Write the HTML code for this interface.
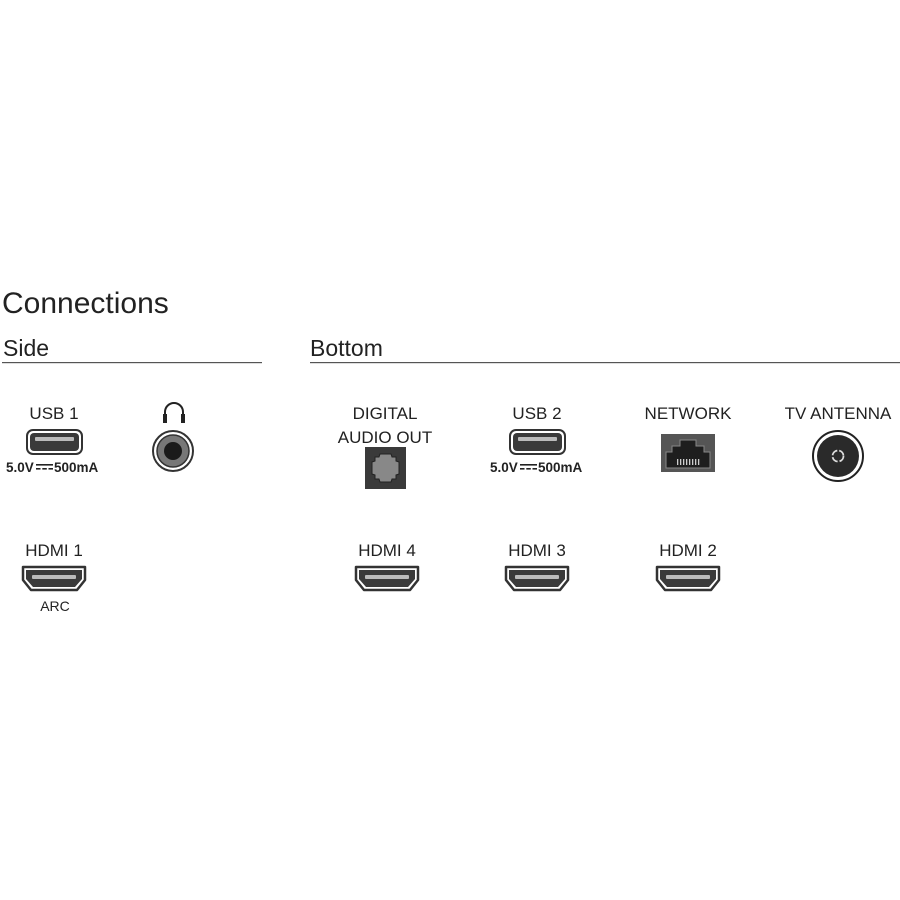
<!DOCTYPE html>
<html><head><meta charset="utf-8"><style>
html,body{margin:0;padding:0;background:#fff;width:900px;height:900px;overflow:hidden}
svg{display:block}
text{font-family:"Liberation Sans",sans-serif;fill:#222}
</style></head><body>
<svg width="900" height="900" viewBox="0 0 900 900">
<defs>
<g id="usb">
<rect x="0" y="0" width="55" height="24" rx="6" fill="#fff" stroke="#333" stroke-width="2"/>
<rect x="3" y="3" width="49" height="18" rx="4" fill="#3a3a3a"/>
<rect x="8" y="7" width="39" height="4" rx="1" fill="#bbb"/>
</g>
<g id="hdmi">
<path d="M2 2 H64 V15 L56 25 H10 L2 15 Z" fill="#fff" stroke="#333" stroke-width="2.5" stroke-linejoin="round"/>
<path d="M5 5 H61 V14 L54 22 H12 L5 14 Z" fill="#3a3a3a"/>
<rect x="11" y="10" width="44" height="4" rx="1" fill="#bbb"/>
</g>
<g id="pw">
<text x="0" y="0" font-size="13.5" font-weight="bold">5.0V</text>
<rect x="30" y="-8" width="17" height="1.6" fill="#222"/>
<rect x="30" y="-4" width="4.5" height="1.6" fill="#222"/><rect x="36.3" y="-4" width="4.5" height="1.6" fill="#222"/><rect x="42.5" y="-4" width="4.5" height="1.6" fill="#222"/>
<text x="48" y="0" font-size="13.5" font-weight="bold">500mA</text>
</g>
</defs>
<text x="2" y="313" font-size="30" fill="#333" style="font-weight:300">Connections</text>
<text x="3" y="356" font-size="23">Side</text>
<text x="310" y="356" font-size="23">Bottom</text>
<rect x="2" y="362" width="260" height="1.2" fill="#555"/>
<rect x="310" y="362" width="590" height="1.2" fill="#555"/>

<text x="54" y="419" font-size="17" text-anchor="middle">USB 1</text>
<use href="#usb" x="27" y="430"/>
<use href="#pw" x="6" y="472"/>

<path d="M165 422 V412 A9 9 0 0 1 183 412 V422" fill="none" stroke="#222" stroke-width="2"/>
<rect x="163" y="414" width="4" height="9" fill="#222"/><rect x="181" y="414" width="4" height="9" fill="#222"/>
<circle cx="173" cy="451" r="20" fill="#fff" stroke="#333" stroke-width="2"/>
<circle cx="173" cy="451" r="16" fill="#777" stroke="#333" stroke-width="1.5"/>
<circle cx="173" cy="451" r="9" fill="#1a1a1a"/>

<text x="54" y="556" font-size="17" text-anchor="middle">HDMI 1</text>
<use href="#hdmi" x="21" y="565"/>
<text x="55" y="611" font-size="14" text-anchor="middle">ARC</text>

<text x="385" y="419" font-size="17" text-anchor="middle">DIGITAL</text>
<text x="385" y="443" font-size="17" text-anchor="middle">AUDIO OUT</text>
<rect x="365" y="447" width="41" height="42" fill="#3a3a3a"/>
<path d="M380 454 H391 L392 457 H396 V461 L399 462 V474 L396 475 V479 H392 L391 482 H380 L379 479 H375 V475 L372 474 V462 L375 461 V457 H379 Z" fill="#888" stroke="#222" stroke-width="1"/>

<text x="537" y="419" font-size="17" text-anchor="middle">USB 2</text>
<use href="#usb" x="510" y="430"/>
<use href="#pw" x="490" y="472"/>

<text x="688" y="419" font-size="17" text-anchor="middle">NETWORK</text>
<rect x="661" y="434" width="54" height="38" fill="#555"/>
<path d="M666 468 V452 H672 V446 H680 V440 H696 V446 H704 V452 H710 V468 Z" fill="#1e1e1e" stroke="#888" stroke-width="1"/>
<g fill="#ccc"><rect x="677" y="459" width="1.3" height="6"/><rect x="680" y="459" width="1.3" height="6"/><rect x="683" y="459" width="1.3" height="6"/><rect x="686" y="459" width="1.3" height="6"/><rect x="689" y="459" width="1.3" height="6"/><rect x="692" y="459" width="1.3" height="6"/><rect x="695" y="459" width="1.3" height="6"/><rect x="698" y="459" width="1.3" height="6"/></g>

<text x="838" y="419" font-size="17" text-anchor="middle">TV ANTENNA</text>
<circle cx="838" cy="456" r="25" fill="#fff" stroke="#222" stroke-width="2"/>
<circle cx="838" cy="456" r="21" fill="#2a2a2a"/>
<circle cx="838" cy="456" r="5.5" fill="none" stroke="#ddd" stroke-width="1.8" stroke-dasharray="7 2"/>

<text x="387" y="556" font-size="17" text-anchor="middle">HDMI 4</text>
<use href="#hdmi" x="354" y="565"/>
<text x="537" y="556" font-size="17" text-anchor="middle">HDMI 3</text>
<use href="#hdmi" x="504" y="565"/>
<text x="688" y="556" font-size="17" text-anchor="middle">HDMI 2</text>
<use href="#hdmi" x="655" y="565"/>
</svg>
</body></html>
